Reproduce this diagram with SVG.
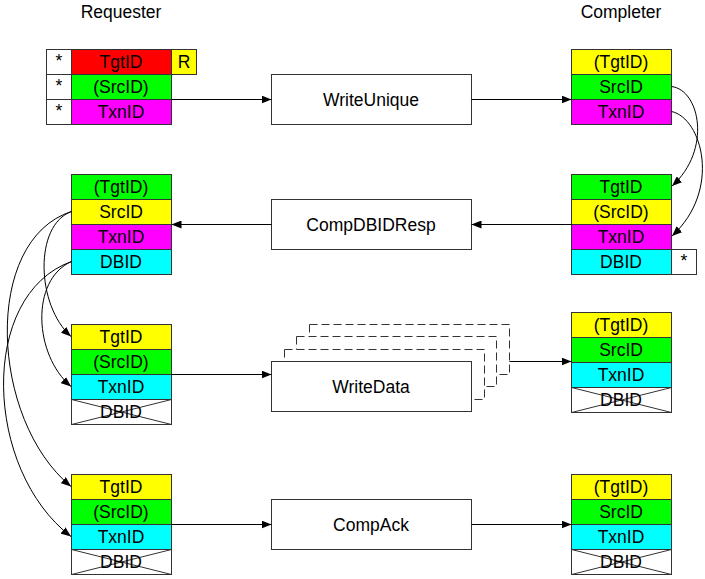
<svg xmlns="http://www.w3.org/2000/svg" width="705" height="579" viewBox="0 0 705 579">
<defs>
<marker id="arr" markerWidth="10" markerHeight="8" refX="10" refY="4" orient="auto" markerUnits="userSpaceOnUse">
<path d="M0,0 L10,4 L0,8 z" fill="#000"/>
</marker>
<style>
rect{stroke:#333;stroke-width:1}
.r{fill:#ff0000}.y{fill:#ffff00}.g{fill:#00ff00}.m{fill:#ff00ff}.c{fill:#00ffff}.w{fill:#fff}
text{font-family:"Liberation Sans",Arial,sans-serif;font-size:17.5px;text-anchor:middle;dominant-baseline:central;fill:#000}
.x{stroke:#333;stroke-width:1}
.cn{fill:none;stroke:#000;stroke-width:1}
.ds{fill:#fff;stroke:#333;stroke-width:1;stroke-dasharray:8 4}
</style>
</defs>
<rect x="0" y="0" width="705" height="579" fill="#fff" style="stroke:none"/>
<text x="121" y="12">Requester</text>
<text x="621" y="12">Completer</text>

<g id="req1">
<rect class="w" x="46.5" y="49.5" width="25" height="25"/><text x="59" y="61">*</text>
<rect class="w" x="46.5" y="74.5" width="25" height="25"/><text x="59" y="86">*</text>
<rect class="w" x="46.5" y="99.5" width="25" height="25"/><text x="59" y="111">*</text>
<rect class="r" x="71.5" y="49.5" width="100" height="25"/><text x="121" y="62">TgtID</text>
<rect class="g" x="71.5" y="74.5" width="100" height="25"/><text x="121" y="87">(SrcID)</text>
<rect class="m" x="71.5" y="99.5" width="100" height="25"/><text x="121" y="112">TxnID</text>
<rect class="y" x="171.5" y="49.5" width="25" height="25"/><text x="184" y="62">R</text>
</g>
<g id="writeunique"><rect class="w" x="271.5" y="74.5" width="200" height="50"/><text x="371" y="99.5">WriteUnique</text></g>
<g id="comp1">
<rect class="y" x="571.5" y="49.5" width="100" height="25"/><text x="621" y="62">(TgtID)</text>
<rect class="g" x="571.5" y="74.5" width="100" height="25"/><text x="621" y="87">SrcID</text>
<rect class="m" x="571.5" y="99.5" width="100" height="25"/><text x="621" y="112">TxnID</text>
</g>

<g id="req2">
<rect class="g" x="71.5" y="174.5" width="100" height="25"/><text x="121" y="187">(TgtID)</text>
<rect class="y" x="71.5" y="199.5" width="100" height="25"/><text x="121" y="212">SrcID</text>
<rect class="m" x="71.5" y="224.5" width="100" height="25"/><text x="121" y="237">TxnID</text>
<rect class="c" x="71.5" y="249.5" width="100" height="25"/><text x="121" y="262">DBID</text>
</g>
<g id="compdbidresp"><rect class="w" x="271.5" y="199.5" width="200" height="50"/><text x="371" y="224.5">CompDBIDResp</text></g>
<g id="comp2">
<rect class="g" x="571.5" y="174.5" width="100" height="25"/><text x="621" y="187">TgtID</text>
<rect class="y" x="571.5" y="199.5" width="100" height="25"/><text x="621" y="212">(SrcID)</text>
<rect class="m" x="571.5" y="224.5" width="100" height="25"/><text x="621" y="237">TxnID</text>
<rect class="c" x="571.5" y="249.5" width="100" height="25"/><text x="621" y="262">DBID</text>
<rect class="w" x="671.5" y="249.5" width="25" height="25"/><text x="684" y="261">*</text>
</g>

<g id="req3">
<rect class="y" x="71.5" y="324.5" width="100" height="25"/><text x="121" y="337">TgtID</text>
<rect class="g" x="71.5" y="349.5" width="100" height="25"/><text x="121" y="362">(SrcID)</text>
<rect class="c" x="71.5" y="374.5" width="100" height="25"/><text x="121" y="387">TxnID</text>
<rect class="w" x="71.5" y="399.5" width="100" height="25"/>
<path class="x" d="M71.5 399.5 L171.5 424.5 M171.5 399.5 L71.5 424.5"/><text x="121" y="412">DBID</text>
</g>
<g id="writedata">
<rect class="ds" x="309.5" y="324.5" width="200" height="50"/>
<rect class="ds" x="296.5" y="336.5" width="200" height="50"/>
<rect class="ds" x="284.5" y="349.5" width="200" height="50"/>
<rect class="w" x="271.5" y="361.5" width="200" height="50"/><text x="371" y="386.5">WriteData</text>
</g>
<g id="comp3">
<rect class="y" x="571.5" y="312.5" width="100" height="25"/><text x="621" y="325">(TgtID)</text>
<rect class="g" x="571.5" y="337.5" width="100" height="25"/><text x="621" y="350">SrcID</text>
<rect class="c" x="571.5" y="362.5" width="100" height="25"/><text x="621" y="375">TxnID</text>
<rect class="w" x="571.5" y="387.5" width="100" height="25"/>
<path class="x" d="M571.5 387.5 L671.5 412.5 M671.5 387.5 L571.5 412.5"/><text x="621" y="400">DBID</text>
</g>

<g id="req4">
<rect class="y" x="71.5" y="474.5" width="100" height="25"/><text x="121" y="487">TgtID</text>
<rect class="g" x="71.5" y="499.5" width="100" height="25"/><text x="121" y="512">(SrcID)</text>
<rect class="c" x="71.5" y="524.5" width="100" height="25"/><text x="121" y="537">TxnID</text>
<rect class="w" x="71.5" y="549.5" width="100" height="25"/>
<path class="x" d="M71.5 549.5 L171.5 574.5 M171.5 549.5 L71.5 574.5"/><text x="121" y="562">DBID</text>
</g>
<g id="compack"><rect class="w" x="271.5" y="499.5" width="200" height="50"/><text x="371" y="524.5">CompAck</text></g>
<g id="comp4">
<rect class="y" x="571.5" y="474.5" width="100" height="25"/><text x="621" y="487">(TgtID)</text>
<rect class="g" x="571.5" y="499.5" width="100" height="25"/><text x="621" y="512">SrcID</text>
<rect class="c" x="571.5" y="524.5" width="100" height="25"/><text x="621" y="537">TxnID</text>
<rect class="w" x="571.5" y="549.5" width="100" height="25"/>
<path class="x" d="M571.5 549.5 L671.5 574.5 M671.5 549.5 L571.5 574.5"/><text x="621" y="562">DBID</text>
</g>

<g id="connectors">
<path class="cn" d="M171.5 99.5 L271.5 99.5" marker-end="url(#arr)"/>
<path class="cn" d="M471.5 99.5 L571.5 99.5" marker-end="url(#arr)"/>
<path class="cn" d="M571.5 224.5 L471.5 224.5" marker-end="url(#arr)"/>
<path class="cn" d="M271.5 224.5 L171.5 224.5" marker-end="url(#arr)"/>
<path class="cn" d="M171.5 374.5 L271.5 374.5" marker-end="url(#arr)"/>
<path class="cn" d="M509.5 361.5 L571.5 361.5" marker-end="url(#arr)"/>
<path class="cn" d="M171.5 524.5 L271.5 524.5" marker-end="url(#arr)"/>
<path class="cn" d="M471.5 524.5 L571.5 524.5" marker-end="url(#arr)"/>
<path class="cn" d="M671.5 86.5 C700 90, 712 150, 672 186" marker-end="url(#arr)"/>
<path class="cn" d="M671.5 111.5 C702 118, 722 190, 672 236" marker-end="url(#arr)"/>
<path class="cn" d="M71.5 211.5 C34 225, 36 305, 71 336.5" marker-end="url(#arr)"/>
<path class="cn" d="M71.5 261.5 C30 280, 34 355, 71 386.5" marker-end="url(#arr)"/>
<path class="cn" d="M71.5 211.5 C-18 240, -10 420, 71 486.5" marker-end="url(#arr)"/>
<path class="cn" d="M71.5 261.5 C-22 295, -16 470, 71 536.5" marker-end="url(#arr)"/>
</g>
</svg>
